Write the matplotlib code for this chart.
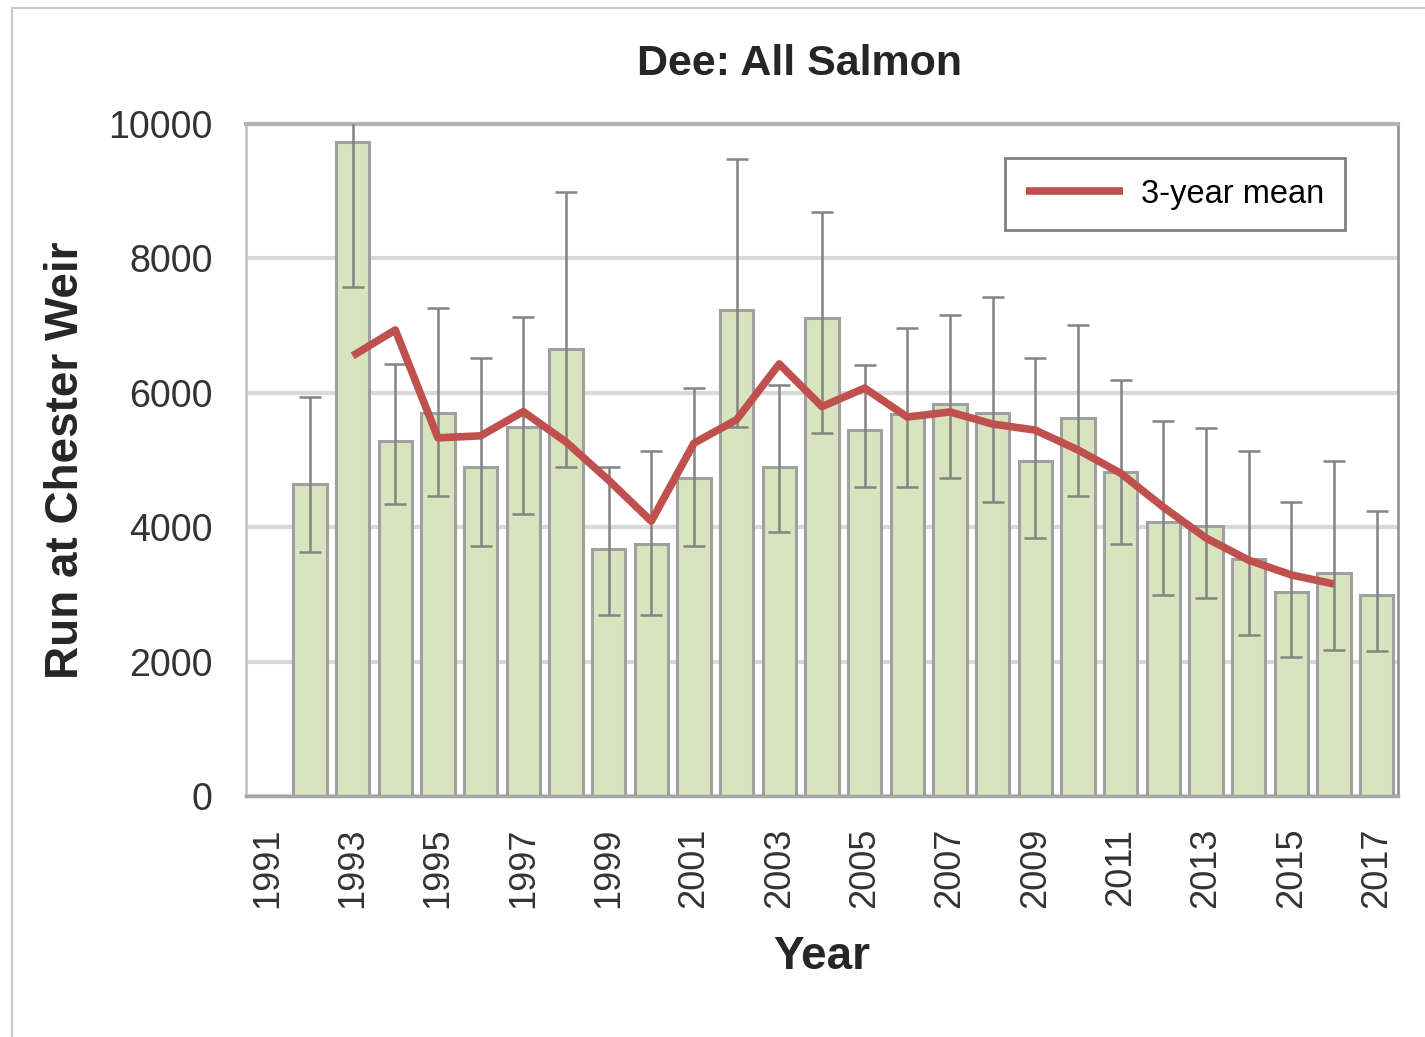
import numpy as np
import matplotlib
matplotlib.use("Agg")
import matplotlib.pyplot as plt
from matplotlib.patches import Rectangle

plt.rcParams['font.family'] = ['Liberation Sans', 'DejaVu Sans']

# data
years = list(range(1991, 2018))
run = [np.nan, 4640, 9735, 5285, 5700, 4900, 5495, 6650, 3680, 3750,
       4730, 7230, 4900, 7115, 5445, 5690, 5830, 5700, 4985, 5625,
       4820, 4075, 4020, 3530, 3040, 3320, 2990]
err_hi = [np.nan, 5935, 10400, 6430, 7260, 6515, 7130, 8995, 4900, 5130,
          6065, 9480, 6115, 8685, 6415, 6965, 7160, 7425, 6515, 7010,
          6190, 5580, 5475, 5135, 4375, 4985, 4240]
err_lo = [np.nan, 3630, 7575, 4345, 4470, 3720, 4195, 4900, 2695, 2695,
          3720, 5485, 3930, 5400, 4600, 4600, 4735, 4375, 3840, 4465,
          3750, 2990, 2945, 2395, 2070, 2175, 2160]
mean3 = [np.nan, np.nan, 6550, 6935, 5330, 5360, 5720, 5270, 4700, 4090,
         5250, 5600, 6430, 5795, 6070, 5640, 5715, 5535, 5445, 5150,
         4805, 4300, 3840, 3510, 3290, 3155, np.nan]
tick_years = [str(y) for y in years[::2]]

x = np.arange(len(years))
run = np.array(run)
yerr = np.array([run - np.array(err_lo), np.array(err_hi) - run])

fig = plt.figure(figsize=(14.25, 10.37), dpi=100)
ax = fig.add_axes([0.1726, 0.2324, 0.8084, 0.648])

# outer chart border (cropped in the reference)
fig.patches.append(Rectangle((12 / 1425, -0.2), 1.2, 1.2 - 8 / 1037,
                             transform=fig.transFigure, fill=False,
                             edgecolor='#C8C8C8', linewidth=1.5))

ax.bar(x, run, width=0.78, color='#D7E4BD', edgecolor='#A0A0A0',
       linewidth=2.2, zorder=2)
ax.errorbar(x, run, yerr=yerr, fmt='none', ecolor='#838383',
            elinewidth=1.8, capsize=8, capthick=1.8, zorder=3)
ax.plot(x, mean3, color='#C0504D', linewidth=5.5, zorder=4,
        solid_capstyle='butt', label='3-year mean')

ax.set_xlim(-0.5, len(years) - 0.5)
ax.set_ylim(0, 10000)
ax.set_yticks([0, 2000, 4000, 6000, 8000, 10000])
ax.set_yticklabels(['0', '2000', '4000', '6000', '8000', '10000'])
ax.set_xticks(x[::2])
ax.set_xticklabels(tick_years, rotation=90)
ax.tick_params(axis='y', length=0, pad=24, labelsize=27, labelcolor='#333333')
ax.tick_params(axis='x', length=0, pad=23, labelsize=26, labelcolor='#333333')

ax.yaxis.grid(True, color='#D9D9D9', linewidth=3)
ax.set_axisbelow(True)

ax.spines['top'].set_color('#B3B3B3')
ax.spines['top'].set_linewidth(3)
ax.spines['right'].set_color('#8C8C8C')
ax.spines['right'].set_linewidth(1.8)
ax.spines['left'].set_color('#C0C0C0')
ax.spines['left'].set_linewidth(1.8)
ax.spines['bottom'].set_color('#A6A6A6')
ax.spines['bottom'].set_linewidth(2.5)

fig.text(0.5614, 0.938, 'Dee: All Salmon', ha='center', va='center',
         fontsize=31, fontweight='bold', color='#262626')
ax.set_ylabel('Run at Chester Weir', fontsize=33, fontweight='bold',
              color='#262626')
ax.yaxis.set_label_coords(-0.137, 0.5)
ax.set_xlabel('Year', fontsize=33, fontweight='bold', color='#262626')
ax.xaxis.set_label_coords(0.5, -0.207)

leg = ax.legend(loc='upper right', bbox_to_anchor=(0.954, 0.949),
                borderaxespad=0, fontsize=23.5, fancybox=False,
                handlelength=3.0, handletextpad=0.55, borderpad=0.62,
                framealpha=1)
leg.get_frame().set_edgecolor('#808080')
leg.get_frame().set_linewidth(2)

plt.savefig('out.png', dpi=100)
